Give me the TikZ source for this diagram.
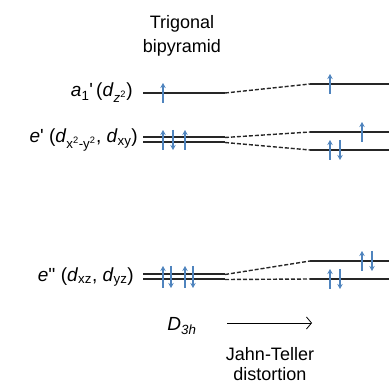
\documentclass[tikz,border=0pt]{standalone}
\usepackage{fontspec}
\setmainfont{Liberation Sans}
\usetikzlibrary{arrows.meta}
\definecolor{spinblue}{HTML}{4F84BE}
\begin{document}
\begin{tikzpicture}[
  x=1pt, y=-1pt,
  level/.style={line width=2pt, black!85},
  corr/.style={line width=1.4pt, black!85, dash pattern=on 4pt off 2pt},
  spin/.style={-{Stealth[length=5pt,width=5.5pt]}, line width=1.6pt, spinblue},
  lbl/.style={anchor=east, inner sep=0pt, font=\fontsize{19}{21}\selectfont},
  txt/.style={inner sep=0pt, font=\fontsize{18}{20}\selectfont}
]
  \useasboundingbox (0,0) rectangle (389,385);

  % Header
  \node[txt] (trig) at (182,24) {Trigonal};
  \node[txt] (bipy) at (182,48) {bipyramid};

  % Labels
  \node[lbl] (la1) at (133,93) {\textit{a}\textsubscript{1}\textquotesingle\,(\textit{d}\textsubscript{\textit{z}\textsuperscript{2}})};
  \node[lbl] (le1) at (138,140) {\textit{e}\textquotesingle\ (\textit{d}\textsubscript{x\textsuperscript{2}-y\textsuperscript{2}}, \textit{d}\textsubscript{xy})};
  \node[lbl] (le2) at (134,277) {\textit{e}\textquotesingle\textquotesingle\ (\textit{d}\textsubscript{xz}, \textit{d}\textsubscript{yz})};

  % Level end points
  \coordinate (a1L) at (143,93);   \coordinate (a1M) at (225,93);
  \coordinate (a1N) at (310,84);   \coordinate (a1R) at (389,84);
  \coordinate (e1La) at (143,137.5); \coordinate (e1Ma) at (225,137.5);
  \coordinate (e1Lb) at (143,142.5); \coordinate (e1Mb) at (225,142.5);
  \coordinate (e1Na) at (310,132); \coordinate (e1Ra) at (389,132);
  \coordinate (e1Nb) at (310,150); \coordinate (e1Rb) at (389,150);
  \coordinate (e2La) at (143,274.5); \coordinate (e2Ma) at (225,274.5);
  \coordinate (e2Lb) at (143,279.5); \coordinate (e2Mb) at (225,279.5);
  \coordinate (e2Na) at (310,261); \coordinate (e2Ra) at (389,261);
  \coordinate (e2Nb) at (310,279); \coordinate (e2Rb) at (389,279);

  % D3h levels
  \draw[level] (a1L) -- (a1M);
  \draw[level] (e1La) -- (e1Ma);
  \draw[level] (e1Lb) -- (e1Mb);
  \draw[level] (e2La) -- (e2Ma);
  \draw[level] (e2Lb) -- (e2Mb);

  % Distorted levels
  \draw[level] (a1N) -- (a1R);
  \draw[level] (e1Na) -- (e1Ra);
  \draw[level] (e1Nb) -- (e1Rb);
  \draw[level] (e2Na) -- (e2Ra);
  \draw[level] (e2Nb) -- (e2Rb);

  % Correlation lines
  \draw[corr] (a1M) -- (a1N);
  \draw[corr] (e1Ma) -- (e1Na);
  \draw[corr] (e1Mb) -- (e1Nb);
  \draw[corr] (e2Ma) -- (e2Na);
  \draw[corr] (e2Mb) -- (e2Nb);

  % Electrons, left
  \draw[spin] (163,103) -- (163,83);
  \draw[spin] (163,150) -- (163,130);
  \draw[spin] (173,130) -- (173,150);
  \draw[spin] (185,150) -- (185,130);
  \draw[spin] (163,288) -- (163,266);
  \draw[spin] (171,266) -- (171,288);
  \draw[spin] (185,288) -- (185,266);
  \draw[spin] (193,266) -- (193,288);

  % Electrons, right
  \draw[spin] (330,94) -- (330,74);
  \draw[spin] (362,142) -- (362,122);
  \draw[spin] (330,160) -- (330,140);
  \draw[spin] (340,140) -- (340,160);
  \draw[spin] (362,271) -- (362,251);
  \draw[spin] (372,251) -- (372,271);
  \draw[spin] (330,289) -- (330,269);
  \draw[spin] (340,269) -- (340,289);

  % Bottom
  \node[lbl, anchor=center] (d3h) at (182,326) {\textit{D}\textsubscript{\textit{3h}}};
  \coordinate (jtA) at (227,323);
  \coordinate (jtB) at (312,323);
  \draw[-{Straight Barb[length=5pt,width=12pt]}, line width=0.8pt] (jtA) -- (jtB);
  \node[txt] (jt1) at (270,354) {Jahn-Teller};
  \node[txt] (jt2) at (270,374) {distortion};
\end{tikzpicture}
\end{document}
